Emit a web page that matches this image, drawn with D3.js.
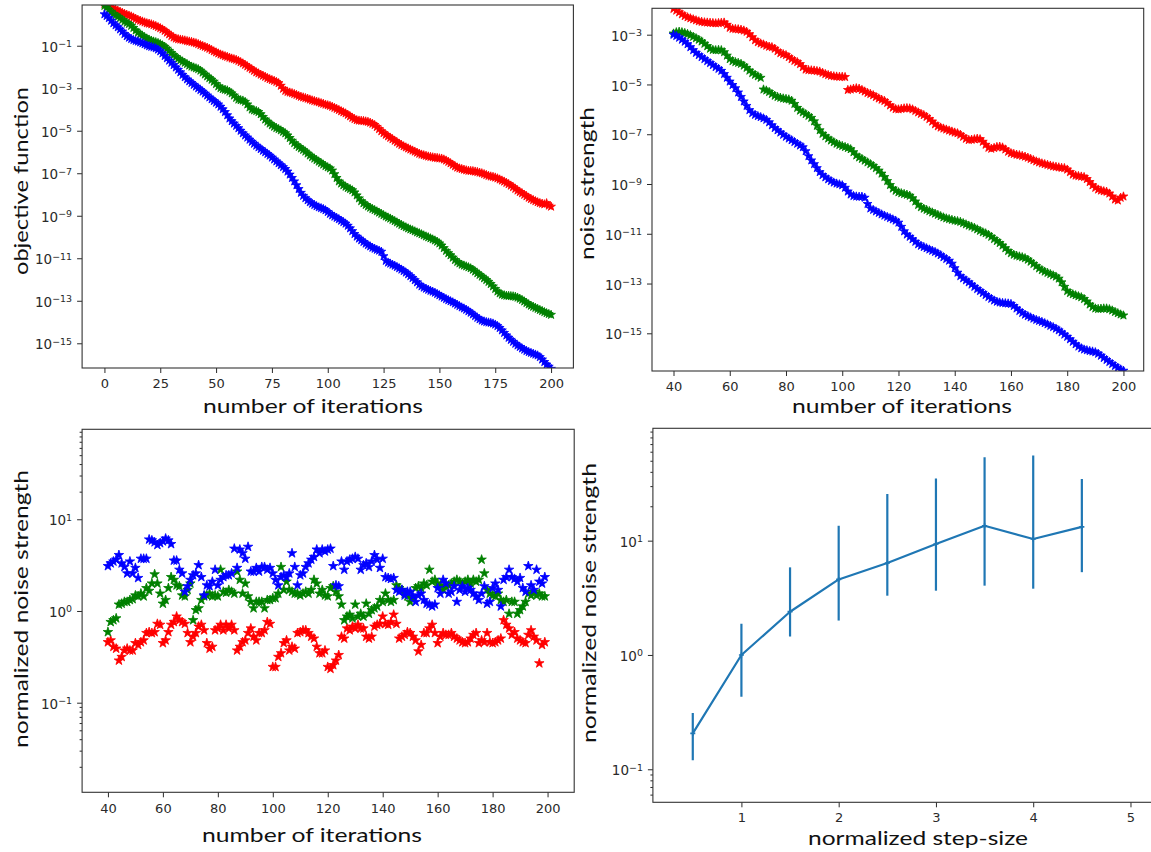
<!DOCTYPE html>
<html>
<head>
<meta charset="utf-8">
<script src="https://cdn.jsdelivr.net/npm/d3@7"></script>
<style>
  body { margin: 0; background: #fff; }
  svg { display: block; }
</style>
</head>
<body>
<svg id="fig" width="1151" height="852"></svg>
<script>
// ---------- data (values stored as log10 of the plotted quantity) ----------

// objective function vs iteration, iterations 0..200
const objectiveRedLog = [
  0.98, 0.93, 0.86, 0.80, 0.75, 0.70, 0.65, 0.60, 0.55, 0.50,
  0.46, 0.42, 0.38, 0.33, 0.27, 0.22, 0.18, 0.14, 0.10, 0.06,
  0.04, 0.01, -0.03, -0.07, -0.12, -0.17, -0.23, -0.30, -0.38, -0.46,
  -0.54, -0.61, -0.66, -0.69, -0.71, -0.73, -0.75, -0.78, -0.80, -0.82,
  -0.85, -0.88, -0.92, -0.97, -1.01, -1.05, -1.09, -1.14, -1.20, -1.26,
  -1.31, -1.36, -1.41, -1.45, -1.49, -1.52, -1.56, -1.60, -1.63, -1.66,
  -1.71, -1.77, -1.83, -1.90, -1.97, -2.04, -2.11, -2.18, -2.25, -2.30,
  -2.36, -2.41, -2.46, -2.52, -2.57, -2.61, -2.65, -2.70, -2.76, -2.88,
  -3.02, -3.12, -3.17, -3.20, -3.23, -3.27, -3.31, -3.36, -3.40, -3.43,
  -3.46, -3.49, -3.53, -3.57, -3.60, -3.63, -3.66, -3.70, -3.73, -3.77,
  -3.80, -3.83, -3.87, -3.92, -3.97, -4.02, -4.08, -4.13, -4.18, -4.25,
  -4.32, -4.39, -4.45, -4.50, -4.52, -4.53, -4.54, -4.56, -4.58, -4.62,
  -4.67, -4.73, -4.82, -4.92, -5.02, -5.11, -5.19, -5.26, -5.33, -5.40,
  -5.47, -5.54, -5.61, -5.67, -5.73, -5.78, -5.83, -5.88, -5.93, -5.98,
  -6.03, -6.08, -6.12, -6.15, -6.18, -6.21, -6.23, -6.25, -6.27, -6.28,
  -6.30, -6.31, -6.35, -6.40, -6.46, -6.53, -6.60, -6.67, -6.73, -6.77,
  -6.80, -6.83, -6.86, -6.88, -6.89, -6.90, -6.92, -6.94, -6.97, -7.00,
  -7.04, -7.08, -7.12, -7.15, -7.17, -7.20, -7.24, -7.29, -7.34, -7.39,
  -7.45, -7.51, -7.58, -7.65, -7.73, -7.81, -7.88, -7.94, -8.01, -8.08,
  -8.15, -8.21, -8.26, -8.31, -8.36, -8.40, -8.43, -8.46, -8.41, -8.52,
  -8.57
];
const objectiveGreenLog = [
  0.88, 0.80, 0.70, 0.60, 0.50, 0.43, 0.37, 0.30, 0.22, 0.14,
  0.08, 0.02, -0.06, -0.16, -0.28, -0.38, -0.46, -0.53, -0.60, -0.66,
  -0.71, -0.76, -0.80, -0.83, -0.87, -0.92, -0.98, -1.05, -1.14, -1.24,
  -1.34, -1.44, -1.53, -1.61, -1.68, -1.74, -1.80, -1.86, -1.93, -1.98,
  -2.02, -2.06, -2.10, -2.17, -2.26, -2.35, -2.44, -2.52, -2.60, -2.69,
  -2.80, -2.91, -2.99, -3.04, -3.07, -3.10, -3.16, -3.24, -3.34, -3.45,
  -3.53, -3.56, -3.58, -3.64, -3.76, -3.90, -4.00, -4.04, -4.07, -4.12,
  -4.22, -4.35, -4.47, -4.57, -4.66, -4.74, -4.81, -4.87, -4.92, -4.98,
  -5.05, -5.12, -5.22, -5.34, -5.47, -5.58, -5.68, -5.76, -5.83, -5.90,
  -5.98, -6.07, -6.16, -6.24, -6.31, -6.38, -6.45, -6.52, -6.59, -6.66,
  -6.72, -6.77, -6.87, -7.04, -7.22, -7.38, -7.48, -7.56, -7.63, -7.69,
  -7.74, -7.80, -7.90, -8.04, -8.18, -8.31, -8.41, -8.49, -8.56, -8.62,
  -8.68, -8.73, -8.79, -8.85, -8.91, -8.97, -9.03, -9.08, -9.13, -9.19,
  -9.25, -9.31, -9.37, -9.43, -9.49, -9.54, -9.59, -9.64, -9.68, -9.73,
  -9.78, -9.82, -9.87, -9.92, -9.97, -10.01, -10.06, -10.11, -10.16, -10.22,
  -10.30, -10.40, -10.52, -10.65, -10.76, -10.86, -10.97, -11.08, -11.17, -11.24,
  -11.30, -11.34, -11.38, -11.42, -11.47, -11.54, -11.62, -11.70, -11.78, -11.86,
  -11.94, -12.02, -12.11, -12.21, -12.32, -12.44, -12.56, -12.65, -12.71, -12.74,
  -12.76, -12.77, -12.78, -12.79, -12.81, -12.85, -12.90, -12.96, -13.03, -13.10,
  -13.17, -13.23, -13.28, -13.33, -13.38, -13.43, -13.48, -13.53, -13.58, -13.62,
  -13.66
];
const objectiveBlueLog = [
  0.48, 0.40, 0.30, 0.18, 0.06, -0.04, -0.13, -0.23, -0.33, -0.45,
  -0.55, -0.62, -0.68, -0.73, -0.77, -0.80, -0.84, -0.88, -0.93, -0.98,
  -1.02, -1.05, -1.08, -1.12, -1.18, -1.26, -1.36, -1.48, -1.59, -1.70,
  -1.80, -1.91, -2.02, -2.13, -2.25, -2.37, -2.48, -2.58, -2.67, -2.75,
  -2.84, -2.92, -3.00, -3.08, -3.16, -3.25, -3.34, -3.43, -3.52, -3.60,
  -3.68, -3.76, -3.87, -3.99, -4.12, -4.27, -4.42, -4.55, -4.66, -4.77,
  -4.88, -5.00, -5.12, -5.22, -5.32, -5.42, -5.52, -5.61, -5.70, -5.78,
  -5.86, -5.94, -6.01, -6.09, -6.17, -6.26, -6.35, -6.44, -6.53, -6.62,
  -6.71, -6.80, -6.92, -7.06, -7.22, -7.38, -7.56, -7.74, -7.92, -8.06,
  -8.17, -8.27, -8.36, -8.43, -8.49, -8.55, -8.60, -8.64, -8.68, -8.74,
  -8.82, -8.91, -8.98, -9.04, -9.10, -9.16, -9.23, -9.30, -9.37, -9.47,
  -9.59, -9.72, -9.86, -9.98, -10.07, -10.15, -10.23, -10.31, -10.38, -10.44,
  -10.50, -10.55, -10.60, -10.64, -10.69, -10.90, -11.12, -11.20, -11.25, -11.30,
  -11.35, -11.41, -11.47, -11.53, -11.60, -11.67, -11.75, -11.84, -11.93, -12.03,
  -12.13, -12.24, -12.32, -12.38, -12.43, -12.48, -12.53, -12.57, -12.62, -12.68,
  -12.74, -12.80, -12.86, -12.92, -12.97, -13.02, -13.07, -13.13, -13.19, -13.25,
  -13.31, -13.36, -13.42, -13.49, -13.56, -13.64, -13.72, -13.80, -13.87, -13.93,
  -13.97, -14.00, -14.02, -14.04, -14.07, -14.12, -14.19, -14.28, -14.39, -14.51,
  -14.63, -14.74, -14.84, -14.93, -15.02, -15.10, -15.17, -15.24, -15.30, -15.36,
  -15.41, -15.45, -15.49, -15.53, -15.57, -15.65, -15.76, -15.88, -16.00, -16.10,
  -16.20
];

// noise strength vs iteration, iterations 40..200
const noiseRedLog = [
  -1.96, -2.03, -2.10, -2.18, -2.25, -2.30, -2.34, -2.38, -2.42, -2.46,
  -2.48, -2.50, -2.51, -2.52, -2.53, -2.54, -2.53, -2.52, -2.51, -2.60,
  -2.72, -2.76, -2.77, -2.78, -2.80, -2.83, -2.88, -2.98, -3.10, -3.22,
  -3.30, -3.35, -3.39, -3.44, -3.48, -3.50, -3.56, -3.66, -3.74, -3.78,
  -3.82, -3.90, -3.98, -4.05, -4.10, -4.18, -4.30, -4.40, -4.42, -4.43,
  -4.44, -4.46, -4.48, -4.53, -4.58, -4.62, -4.65, -4.67, -4.68, -4.69,
  -4.69, -4.70, -5.22, -5.20, -5.17, -5.15, -5.17, -5.22, -5.28, -5.34,
  -5.38, -5.43, -5.50, -5.56, -5.61, -5.66, -5.74, -5.84, -5.93, -5.99,
  -6.00, -5.98, -5.96, -5.95, -5.96, -6.00, -6.06, -6.12, -6.18, -6.23,
  -6.30, -6.39, -6.49, -6.60, -6.68, -6.73, -6.77, -6.81, -6.85, -6.89,
  -6.93, -6.96, -7.02, -7.10, -7.18, -7.23, -7.22, -7.20, -7.18, -7.20,
  -7.30, -7.42, -7.54, -7.58, -7.55, -7.51, -7.50, -7.53, -7.61, -7.70,
  -7.76, -7.79, -7.82, -7.84, -7.87, -7.90, -7.94, -7.99, -8.04, -8.09,
  -8.13, -8.17, -8.20, -8.23, -8.26, -8.29, -8.31, -8.33, -8.35, -8.36,
  -8.42, -8.52, -8.62, -8.66, -8.68, -8.70, -8.72, -8.80, -8.92, -9.05,
  -9.15, -9.22, -9.26, -9.29, -9.31, -9.38, -9.50, -9.62, -9.66, -9.55,
  -9.50
];
const noiseGreenLog = [
  -2.95, -2.90, -2.88, -2.90, -2.93, -2.97, -3.02, -3.08, -3.14, -3.20,
  -3.27, -3.36, -3.46, -3.56, -3.61, -3.62, -3.61, -3.62, -3.70, -3.84,
  -3.98, -4.06, -4.10, -4.13, -4.17, -4.24, -4.33, -4.44, -4.54, -4.61,
  -4.67, -4.73, -5.20, -5.24, -5.30, -5.38, -5.45, -5.50, -5.53, -5.56,
  -5.58, -5.60, -5.65, -5.78, -5.94, -6.05, -6.12, -6.19, -6.26, -6.34,
  -6.48, -6.66, -6.84, -6.98, -7.08, -7.17, -7.25, -7.32, -7.38, -7.43,
  -7.47, -7.51, -7.55, -7.60, -7.72, -7.85, -7.93, -7.99, -8.06, -8.13,
  -8.20, -8.27, -8.36, -8.46, -8.58, -8.72, -8.88, -9.04, -9.18, -9.27,
  -9.33, -9.37, -9.40, -9.43, -9.47, -9.57, -9.70, -9.84, -9.93, -9.99,
  -10.04, -10.09, -10.14, -10.19, -10.24, -10.29, -10.34, -10.38, -10.41, -10.44,
  -10.47, -10.49, -10.52, -10.57, -10.62, -10.67, -10.71, -10.76, -10.82, -10.88,
  -10.94, -10.98, -11.04, -11.12, -11.21, -11.29, -11.37, -11.47, -11.58, -11.69,
  -11.78, -11.84, -11.88, -11.91, -11.94, -11.98, -12.04, -12.12, -12.21, -12.30,
  -12.39, -12.46, -12.52, -12.57, -12.62, -12.67, -12.72, -12.80, -12.95, -13.13,
  -13.30, -13.38, -13.43, -13.47, -13.51, -13.55, -13.62, -13.72, -13.84, -13.94,
  -14.00, -14.02, -14.01, -14.00, -14.00, -14.03, -14.08, -14.14, -14.19, -14.24,
  -14.28
];
const noiseBlueLog = [
  -3.00, -3.05, -3.12, -3.20, -3.28, -3.38, -3.50, -3.62, -3.73, -3.82,
  -3.90, -3.98, -4.06, -4.14, -4.22, -4.30, -4.37, -4.45, -4.58, -4.73,
  -4.88, -5.02, -5.15, -5.32, -5.50, -5.68, -5.86, -6.03, -6.15, -6.22,
  -6.27, -6.31, -6.36, -6.42, -6.52, -6.64, -6.75, -6.84, -6.93, -7.02,
  -7.10, -7.17, -7.24, -7.31, -7.38, -7.45, -7.52, -7.68, -7.88, -8.05,
  -8.20, -8.36, -8.52, -8.64, -8.73, -8.81, -8.88, -8.94, -8.98, -9.01,
  -9.05, -9.15, -9.30, -9.42, -9.48, -9.50, -9.51, -9.51, -9.55, -9.80,
  -9.98, -10.04, -10.10, -10.16, -10.22, -10.27, -10.32, -10.37, -10.42, -10.47,
  -10.55, -10.72, -10.90, -11.03, -11.12, -11.22, -11.32, -11.42, -11.48, -11.53,
  -11.58, -11.63, -11.68, -11.73, -11.79, -11.86, -11.94, -12.01, -12.08, -12.20,
  -12.38, -12.56, -12.70, -12.79, -12.87, -12.95, -13.04, -13.13, -13.22, -13.30,
  -13.38, -13.46, -13.54, -13.61, -13.68, -13.73, -13.76, -13.78, -13.79, -13.80,
  -13.82, -13.90, -14.00, -14.10, -14.18, -14.25, -14.31, -14.36, -14.41, -14.46,
  -14.50, -14.54, -14.59, -14.64, -14.70, -14.75, -14.81, -14.88, -14.96, -15.05,
  -15.14, -15.24, -15.34, -15.44, -15.53, -15.60, -15.65, -15.68, -15.71, -15.73,
  -15.76, -15.82, -15.90, -15.99, -16.07, -16.15, -16.23, -16.31, -16.38, -16.45,
  -16.50
];

// normalized noise strength vs iteration, iterations 40..199
const normRedLog = [
  -0.34, -0.32, -0.39, -0.41, -0.54, -0.50, -0.43, -0.41, -0.43, -0.43,
  -0.35, -0.37, -0.34, -0.32, -0.24, -0.23, -0.24, -0.23, -0.14, -0.15,
  -0.35, -0.32, -0.23, -0.15, -0.12, -0.06, -0.10, -0.12, -0.14, -0.24,
  -0.34, -0.28, -0.24, -0.17, -0.15, -0.21, -0.35, -0.41, -0.39, -0.21,
  -0.19, -0.15, -0.21, -0.15, -0.19, -0.15, -0.21, -0.43, -0.39, -0.34,
  -0.32, -0.24, -0.19, -0.28, -0.32, -0.24, -0.24, -0.21, -0.12, -0.14,
  -0.61, -0.61, -0.50, -0.46, -0.35, -0.32, -0.43, -0.39, -0.41, -0.24,
  -0.23, -0.21, -0.21, -0.24, -0.28, -0.30, -0.39, -0.46, -0.46, -0.43,
  -0.61, -0.63, -0.59, -0.54, -0.48, -0.28, -0.30, -0.19, -0.21, -0.17,
  -0.19, -0.15, -0.19, -0.19, -0.28, -0.30, -0.28, -0.17, -0.15, -0.14,
  -0.06, -0.14, -0.15, -0.12, -0.04, -0.14, -0.30, -0.28, -0.26, -0.23,
  -0.24, -0.28, -0.32, -0.44, -0.37, -0.24, -0.24, -0.19, -0.15, -0.24,
  -0.35, -0.28, -0.24, -0.26, -0.26, -0.24, -0.28, -0.30, -0.32, -0.34,
  -0.35, -0.34, -0.30, -0.26, -0.24, -0.35, -0.32, -0.34, -0.24, -0.34,
  -0.35, -0.34, -0.32, -0.30, -0.10, -0.15, -0.19, -0.26, -0.23, -0.30,
  -0.32, -0.34, -0.35, -0.26, -0.21, -0.28, -0.32, -0.57, -0.37, -0.34
];
const normGreenLog = [
  -0.23, -0.12, -0.10, -0.08, 0.07, 0.08, 0.10, 0.10, 0.12, 0.13,
  0.17, 0.16, 0.19, 0.16, 0.25, 0.22, 0.30, 0.40, 0.30, 0.19,
  0.08, 0.12, 0.25, 0.37, 0.34, 0.28, 0.27, 0.17, 0.16, 0.23,
  0.30, -0.10, 0.01, 0.03, 0.12, 0.16, 0.17, 0.19, 0.16, 0.17,
  0.16, 0.45, 0.21, 0.20, 0.23, 0.21, 0.19, 0.43, 0.34, 0.19,
  0.30, 0.16, 0.10, 0.03, 0.10, 0.10, 0.10, 0.03, 0.12, 0.12,
  0.14, 0.14, 0.19, 0.48, 0.23, 0.32, 0.23, 0.21, 0.19, 0.19,
  0.17, 0.19, 0.21, 0.19, 0.23, 0.34, 0.30, 0.19, 0.23, 0.17,
  0.16, 0.25, 0.27, 0.21, 0.16, 0.07, -0.10, -0.06, -0.04, -0.08,
  0.07, -0.06, -0.03, -0.06, 0.08, -0.03, 0.01, 0.03, 0.05, 0.12,
  0.10, 0.19, 0.12, 0.10, 0.12, 0.28, 0.25, 0.23, 0.19, 0.16,
  0.10, 0.14, 0.25, 0.27, 0.25, 0.30, 0.28, 0.45, 0.32, 0.34,
  0.30, 0.28, 0.23, 0.27, 0.28, 0.30, 0.32, 0.34, 0.32, 0.30,
  0.32, 0.34, 0.30, 0.34, 0.32, 0.34, 0.56, 0.41, 0.23, 0.19,
  0.17, 0.16, 0.19, 0.12, 0.10, 0.12, -0.03, 0.10, 0.10, -0.03,
  0.01, 0.05, 0.10, 0.19, 0.17, 0.21, 0.17, 0.19, 0.16, 0.16
];
const normBlueLog = [
  0.49, 0.52, 0.54, 0.56, 0.61, 0.52, 0.48, 0.41, 0.54, 0.41,
  0.47, 0.36, 0.57, 0.57, 0.57, 0.78, 0.77, 0.75, 0.72, 0.74,
  0.76, 0.79, 0.77, 0.73, 0.55, 0.55, 0.45, 0.41, 0.21, 0.27,
  0.34, 0.39, 0.41, 0.50, 0.37, 0.17, 0.28, 0.27, 0.32, 0.45,
  0.28, 0.34, 0.37, 0.39, 0.39, 0.41, 0.68, 0.47, 0.67, 0.63,
  0.57, 0.70, 0.43, 0.43, 0.47, 0.43, 0.48, 0.48, 0.45, 0.47,
  0.41, 0.34, 0.28, 0.37, 0.39, 0.37, 0.41, 0.63, 0.48, 0.28,
  0.39, 0.41, 0.48, 0.52, 0.56, 0.59, 0.67, 0.63, 0.67, 0.65,
  0.67, 0.68, 0.49, 0.28, 0.27, 0.54, 0.45, 0.54, 0.56, 0.57,
  0.59, 0.57, 0.45, 0.50, 0.52, 0.48, 0.54, 0.61, 0.56, 0.47,
  0.57, 0.37, 0.36, 0.35, 0.36, 0.23, 0.21, 0.23, 0.17, 0.21,
  0.21, 0.16, 0.10, 0.17, 0.19, 0.12, 0.08, 0.07, 0.05, 0.07,
  0.25, 0.19, 0.34, 0.30, 0.19, 0.21, 0.27, 0.10, 0.23, 0.27,
  0.21, 0.25, 0.23, 0.19, 0.16, 0.12, 0.19, 0.27, 0.08, 0.10,
  0.25, 0.30, 0.23, 0.05, 0.34, 0.37, 0.45, 0.37, 0.35, 0.32,
  0.36, 0.25, 0.21, 0.49, 0.28, 0.23, 0.45, 0.32, 0.30, 0.37
];

// normalized noise strength vs normalized step-size (mean with spread)
const stepSize       = [0.5, 1, 1.5, 2, 2.5, 3, 3.5, 4, 4.5];
const stepNoiseMean  = [0.206, 1.0, 2.39, 4.58, 6.38, 9.35, 13.5, 10.35, 13.2];
const stepNoiseLow   = [0.12, 0.43, 1.45, 2.0, 3.3, 3.65, 4.04, 3.8, 5.3];
const stepNoiseHigh  = [0.31, 1.88, 5.84, 13.5, 25.6, 34.9, 53.6, 55.7, 34.6];

// tick values
const objectiveIterTicks = [0, 25, 50, 75, 100, 125, 150, 175, 200];
const laterIterTicks     = [40, 60, 80, 100, 120, 140, 160, 180, 200];
const stepTicks          = [1, 2, 3, 4, 5];
const objectiveYTicks    = [1e-1, 1e-3, 1e-5, 1e-7, 1e-9, 1e-11, 1e-13, 1e-15];
const noiseYTicks        = [1e-3, 1e-5, 1e-7, 1e-9, 1e-11, 1e-13, 1e-15];
const normYTicks         = [1e-1, 1, 10];
const normMinorTicks     = [0.02, 0.03, 0.04, 0.05, 0.06, 0.07, 0.08, 0.09,
                            20, 30, 40, 50, 60, 70, 80, 90];
const stepMinorTicks     = [0.06, 0.07, 0.08, 0.09, 20, 30, 40, 50, 60, 70, 80, 90];

const seriesColors = { red: '#ff0000', green: '#008000', blue: '#0000ff' };

// ---------- drawing ----------
const svg = d3.select('#fig');
const TICK_FONT = '"DejaVu Sans", sans-serif';
const LABEL_FONT = 'Lato, "Open Sans", sans-serif';
const INK = '#2a2a2a';

function powerLabel(sel) {
  sel.each(function (d) {
    const e = Math.round(Math.log10(d));
    const t = d3.select(this).text(null);
    t.append('tspan').text('10');
    t.append('tspan').attr('dy', '-0.5em').attr('font-size', '0.7em')
      .text(e < 0 ? '\u2212' + (-e) : String(e));
  });
}

function styleAxis(g, size) {
  g.attr('font-family', TICK_FONT).attr('font-size', size);
  g.select('.domain').remove();
  g.selectAll('.tick line').attr('stroke', INK).attr('stroke-width', 1);
  g.selectAll('.tick text').attr('fill', INK);
}

function makePanel(p) {
  const x = d3.scaleLinear().domain(p.xDomain).range([p.left, p.right]);
  const y = d3.scaleLog().domain(p.yDomain).range([p.bottom, p.top]);
  const g = svg.append('g');

  g.append('clipPath').attr('id', 'clip-' + p.id)
    .append('rect')
    .attr('x', p.left).attr('y', p.top)
    .attr('width', p.right - p.left).attr('height', p.bottom - p.top);
  const plot = g.append('g').attr('clip-path', `url(#clip-${p.id})`);

  const xa = g.append('g').attr('transform', `translate(0,${p.bottom})`)
    .call(d3.axisBottom(x).tickValues(p.xTicks).tickSize(5).tickPadding(p.xPad)
      .tickFormat(d3.format('d')));
  styleAxis(xa, 13);

  const ya = g.append('g').attr('transform', `translate(${p.left},0)`)
    .call(d3.axisLeft(y).tickValues(p.yTicks).tickSize(5).tickPadding(5));
  styleAxis(ya, 13.5);
  ya.selectAll('.tick text').call(powerLabel).attr('dy', '0.42em');

  if (p.minor) {
    const ma = g.append('g').attr('transform', `translate(${p.left},0)`)
      .call(d3.axisLeft(y).tickValues(p.minor).tickSize(2.5).tickFormat(''));
    styleAxis(ma, 10);
  }

  g.append('rect')
    .attr('x', p.left).attr('y', p.top)
    .attr('width', p.right - p.left).attr('height', p.bottom - p.top)
    .attr('fill', 'none').attr('stroke', '#333').attr('stroke-width', 1.1);

  // axis titles
  g.append('text')
    .attr('x', p.xLabelX).attr('y', p.xLabelY)
    .attr('text-anchor', 'middle')
    .attr('font-family', LABEL_FONT).attr('font-size', 20).attr('fill', '#111')
    .attr('textLength', p.xLabelLen).attr('lengthAdjust', 'spacingAndGlyphs')
    .text(p.xLabel);
  g.append('text')
    .attr('transform', `translate(${p.yLabelX},${p.yLabelY}) rotate(-90)`)
    .attr('text-anchor', 'middle')
    .attr('font-family', LABEL_FONT).attr('font-size', 20).attr('fill', '#111')
    .attr('textLength', p.yLabelLen).attr('lengthAdjust', 'spacingAndGlyphs')
    .text(p.yLabel);

  return { x, y, plot };
}

function starSeries(panel, logValues, firstIter, color, size) {
  const pts = logValues.map((L, k) => ({ i: firstIter + k, v: Math.pow(10, L) }));
  panel.plot.append('g').selectAll('path').data(pts).join('path')
    .attr('d', d3.symbol(d3.symbolStar, size)())
    .attr('transform', d => `translate(${panel.x(d.i)},${panel.y(d.v)})`)
    .attr('fill', color).attr('stroke', color).attr('stroke-width', 0.8);
}

// top-left: objective function
const pObj = makePanel({
  id: 'obj', left: 82.1, right: 573.4, top: 5, bottom: 368,
  xDomain: [-10, 210], yDomain: [Math.pow(10, -16.163), Math.pow(10, 0.916)],
  xTicks: objectiveIterTicks, yTicks: objectiveYTicks, xPad: 5.5,
  xLabel: 'number of iterations', xLabelX: 313, xLabelY: 413, xLabelLen: 220,
  yLabel: 'objective function', yLabelX: 27.5, yLabelY: 181, yLabelLen: 188
});
starSeries(pObj, objectiveRedLog, 0, seriesColors.red, 24);
starSeries(pObj, objectiveGreenLog, 0, seriesColors.green, 24);
starSeries(pObj, objectiveBlueLog, 0, seriesColors.blue, 24);

// top-right: noise strength
const pNoise = makePanel({
  id: 'noise', left: 652, right: 1143.7, top: 8.3, bottom: 371,
  xDomain: [32.35, 207.2], yDomain: [Math.pow(10, -16.515), Math.pow(10, -1.939)],
  xTicks: laterIterTicks, yTicks: noiseYTicks, xPad: 6,
  xLabel: 'number of iterations', xLabelX: 902, xLabelY: 413, xLabelLen: 220,
  yLabel: 'noise strength', yLabelX: 594, yLabelY: 183.5, yLabelLen: 153
});
starSeries(pNoise, noiseRedLog, 40, seriesColors.red, 24);
starSeries(pNoise, noiseGreenLog, 40, seriesColors.green, 24);
starSeries(pNoise, noiseBlueLog, 40, seriesColors.blue, 24);

// bottom-left: normalized noise strength vs iteration
const pNorm = makePanel({
  id: 'norm', left: 82.1, right: 574.2, top: 429.3, bottom: 792.3,
  xDomain: [30.6, 209.7], yDomain: [Math.pow(10, -1.977), Math.pow(10, 1.981)],
  xTicks: laterIterTicks, yTicks: normYTicks, minor: normMinorTicks, xPad: 6,
  xLabel: 'number of iterations', xLabelX: 312, xLabelY: 842, xLabelLen: 220,
  yLabel: 'normalized noise strength', yLabelX: 27.5, yLabelY: 609, yLabelLen: 278
});
starSeries(pNorm, normRedLog, 40, seriesColors.red, 28);
starSeries(pNorm, normGreenLog, 40, seriesColors.green, 28);
starSeries(pNorm, normBlueLog, 40, seriesColors.blue, 28);

// bottom-right: normalized noise strength vs normalized step-size
const pStep = makePanel({
  id: 'step', left: 652.9, right: 1154.8, top: 428.3, bottom: 802.3,
  xDomain: [0.09, 5.25], yDomain: [Math.pow(10, -1.289), Math.pow(10, 1.983)],
  xTicks: stepTicks, yTicks: normYTicks, minor: stepMinorTicks, xPad: 5,
  xLabel: 'normalized step-size', xLabelX: 918, xLabelY: 845, xLabelLen: 220,
  yLabel: 'normalized noise strength', yLabelX: 596, yLabelY: 603, yLabelLen: 280
});
const stepPts = stepSize.map((s, k) => ({
  s, m: stepNoiseMean[k], lo: stepNoiseLow[k], hi: stepNoiseHigh[k]
}));
const C0 = '#1f77b4';
pStep.plot.append('g').selectAll('line').data(stepPts).join('line')
  .attr('x1', d => pStep.x(d.s)).attr('x2', d => pStep.x(d.s))
  .attr('y1', d => pStep.y(d.lo)).attr('y2', d => pStep.y(d.hi))
  .attr('stroke', C0).attr('stroke-width', 2.2);
pStep.plot.append('path').datum(stepPts)
  .attr('d', d3.line().x(d => pStep.x(d.s)).y(d => pStep.y(d.m)))
  .attr('fill', 'none').attr('stroke', C0).attr('stroke-width', 2.2)
  .attr('stroke-linejoin', 'round');
pStep.plot.append('g').selectAll('path').data(stepPts).join('path')
  .attr('d', d3.symbol(d3.symbolCross, 14)())
  .attr('transform', d => `translate(${pStep.x(d.s)},${pStep.y(d.m)})`)
  .attr('fill', C0);
</script>
</body>
</html>
